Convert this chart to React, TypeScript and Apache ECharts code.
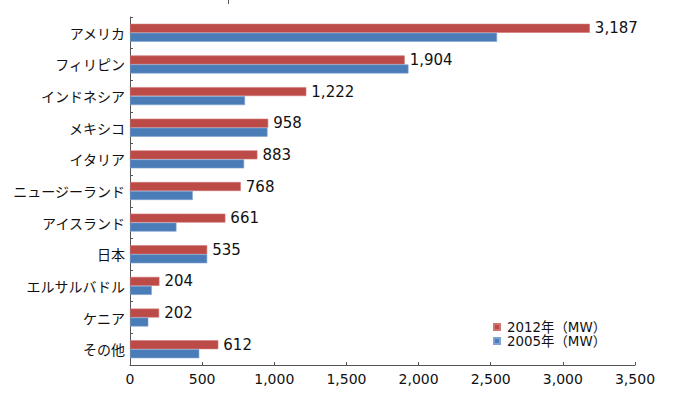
import React, { useEffect, useRef } from "react";
import * as echarts from "echarts";

const categories = [
  "アメリカ",
  "フィリピン",
  "インドネシア",
  "メキシコ",
  "イタリア",
  "ニュージーランド",
  "アイスランド",
  "日本",
  "エルサルバドル",
  "ケニア",
  "その他",
];
const values2012 = [3187, 1904, 1222, 958, 883, 768, 661, 535, 204, 202, 612];
const values2005 = [2544, 1930, 797, 953, 791, 435, 322, 535, 151, 127, 480];
const seriesNames = ["2012年（MW）", "2005年（MW）"];
const xTicks = { min: 0, max: 3500, interval: 500 };

const FONT = "'DejaVu Sans', 'Noto Sans CJK JP', sans-serif";
const JP_FONT = "'Noto Sans CJK JP', sans-serif";

export default function App() {
  const ref = useRef<HTMLDivElement>(null);
  useEffect(() => {
    if (!ref.current) return;
    const chart = echarts.init(ref.current, null, { renderer: "svg" });
    chart.setOption({
      animation: false,
      backgroundColor: "#ffffff",
      textStyle: { fontFamily: FONT },
      grid: { left: 130, right: 45, top: 17, bottom: 40, containLabel: false },
      legend: {
        orient: "vertical",
        left: 493,
        top: 320,
        padding: 0,
        itemWidth: 6,
        itemHeight: 6,
        itemGap: 0,
        icon: "rect",
        textStyle: {
          fontSize: 13.4,
          lineHeight: 14,
          color: "#111",
          fontFamily: FONT,
          padding: [0, 0, 0, 2],
        },
        data: seriesNames,
      },
      xAxis: {
        type: "value",
        min: xTicks.min,
        max: xTicks.max,
        interval: xTicks.interval,
        axisLine: { show: true, lineStyle: { color: "#555", width: 1 } },
        axisTick: { show: true, inside: true, length: 3, lineStyle: { color: "#555" } },
        splitLine: { show: false },
        axisLabel: {
          fontSize: 14,
          color: "#111",
          margin: 7,
          fontFamily: FONT,
          formatter: (v: number) => v.toLocaleString("en-US"),
        },
      },
      yAxis: {
        type: "category",
        data: categories,
        inverse: true,
        axisLine: { show: true, lineStyle: { color: "#555", width: 1 } },
        axisTick: { show: true, inside: true, length: 3, lineStyle: { color: "#555" } },
        axisLabel: { fontSize: 14, color: "#111", margin: 5, fontFamily: JP_FONT },
      },
      series: [
        {
          name: seriesNames[0],
          type: "bar",
          data: values2012,
          barWidth: 9,
          barGap: "0%",
          itemStyle: { color: "#BC4B48", borderColor: "#D07775", borderWidth: 0.6 },
          label: {
            show: true,
            position: "right",
            distance: 5,
            fontSize: 15,
            color: "#111",
            fontFamily: FONT,
            formatter: (p: any) => Number(p.value).toLocaleString("en-US"),
          },
        },
        {
          name: seriesNames[1],
          type: "bar",
          data: values2005,
          barWidth: 9,
          barGap: "0%",
          itemStyle: { color: "#4A7DB8", borderColor: "#7FA3D0", borderWidth: 0.6 },
        },
      ],
      graphic: [
        {
          type: "line",
          shape: { x1: 228.5, y1: 0, x2: 228.5, y2: 4 },
          style: { stroke: "#555", lineWidth: 1 },
        },
      ],
    });
    return () => chart.dispose();
  }, []);
  return (
    <div
      ref={ref}
      style={{ position: "fixed", left: 0, top: 0, width: 680, height: 405 }}
    />
  );
}
